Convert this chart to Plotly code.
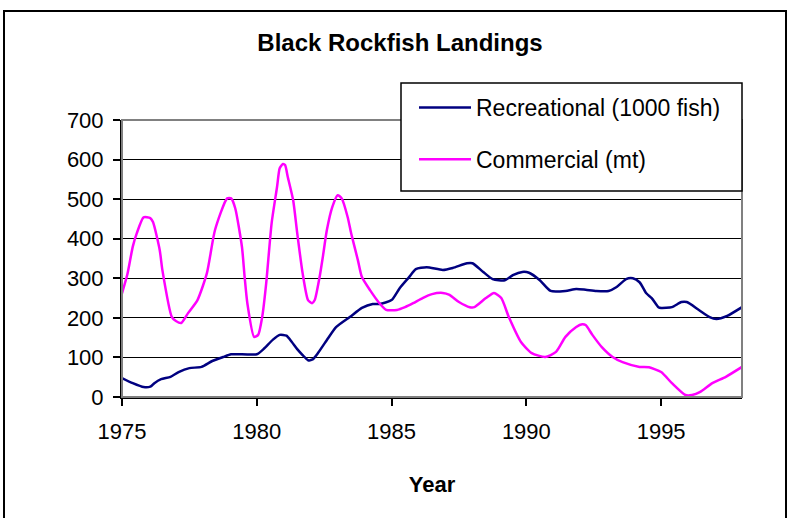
import plotly.graph_objects as go

# ---- data ----
rec_years = [1975.0, 1975.4, 1975.8, 1976.05, 1976.2, 1976.45, 1976.8, 1977.1, 1977.5, 1977.95,
             1978.35, 1978.75, 1979.05, 1980.0, 1980.25, 1980.6, 1980.85, 1981.1, 1981.3, 1981.5,
             1981.7, 1981.9, 1982.07, 1982.27, 1982.6, 1982.95, 1983.45, 1983.9, 1984.3, 1984.55,
             1985.0, 1985.3, 1985.65, 1985.9, 1986.3, 1986.9, 1987.27, 1987.8, 1988.0, 1988.4,
             1988.75, 1989.2, 1989.5, 1989.85, 1990.1, 1990.5, 1990.9, 1991.45, 1991.85, 1992.2,
             1992.6, 1993.05, 1993.35, 1993.7, 1993.95, 1994.2, 1994.45, 1994.65, 1994.9, 1995.0,
             1995.4, 1995.75, 1995.95, 1996.4, 1996.8, 1997.05, 1997.45, 1998.0]
rec_values = [48, 35, 25, 26, 35, 45, 51, 63, 73, 76,
              91, 101, 108, 108, 121, 145, 157, 155, 139, 121,
              106, 93, 95, 111, 144, 177, 202, 225, 235, 235,
              245, 275, 303, 323, 328, 321, 326, 338, 338, 316,
              298, 295, 308, 316, 314, 295, 268, 268, 273, 271,
              268, 268, 278, 298, 300, 290, 262, 250, 227, 225,
              227, 240, 240, 220, 202, 197, 205, 227]

com_years = [1975.0, 1975.2, 1975.4, 1975.55, 1975.8, 1976.05, 1976.15, 1976.4, 1976.5, 1976.85,
             1977.0, 1977.2, 1977.45, 1977.8, 1978.15, 1978.45, 1978.9, 1979.05, 1979.2, 1979.45,
             1979.55, 1979.65, 1979.9, 1980.05, 1980.2, 1980.35, 1980.55, 1980.75, 1980.85, 1980.97,
             1981.05, 1981.15, 1981.35, 1981.5, 1981.7, 1981.9, 1982.05, 1982.15, 1982.33, 1982.45,
             1982.6, 1982.8, 1983.0, 1983.15, 1983.37, 1983.5, 1983.75, 1983.9, 1984.2, 1984.55,
             1984.8, 1985.2, 1985.5, 1985.8, 1986.15, 1986.5, 1986.9, 1987.15, 1987.5, 1987.9,
             1988.07, 1988.5, 1988.8, 1989.07, 1989.35, 1989.8, 1990.2, 1990.7, 1991.1, 1991.45,
             1991.85, 1992.07, 1992.2, 1992.45, 1992.8, 1993.2, 1993.57, 1994.2, 1994.55, 1995.0,
             1995.4, 1995.9, 1996.15, 1996.45, 1996.9, 1997.4, 1998.0]
com_values = [262, 310, 380, 414, 454, 452, 442, 371, 320, 202,
              192, 187, 212, 245, 313, 422, 502, 502, 477, 379,
              303, 237, 152, 157, 202, 288, 439, 530, 578, 589,
              586, 556, 497, 414, 313, 245, 237, 245, 303, 354,
              422, 480, 510, 502, 455, 414, 346, 303, 270, 237,
              220, 220, 227, 237, 250, 260, 263, 258, 240, 227,
              227, 250, 263, 250, 202, 139, 111, 101, 114, 152,
              177, 184, 182, 157, 126, 101, 88, 76, 75, 63,
              35, 5, 5, 13, 35, 51, 76]

x_ticks = [1975, 1980, 1985, 1990, 1995]
y_ticks = [0, 100, 200, 300, 400, 500, 600, 700]

FONT = "Arial, Liberation Sans, sans-serif"
W, H = 787, 518
L, R, T, B = 122, 742, 120, 397   # plot area in pixels


def px_x(p):
    return (p - L) / (R - L)


def px_y(p):
    return (B - p) / (B - T)


fig = go.Figure()
fig.add_trace(go.Scatter(x=rec_years, y=rec_values, mode="lines", name="Recreational (1000 fish)",
                         line=dict(color="#000080", width=2.5, shape="spline", smoothing=0.6),
                         legendgroup="a"))
fig.add_trace(go.Scatter(x=com_years, y=com_values, mode="lines", name="Commercial (mt)",
                         line=dict(color="#FF00FF", width=2.5, shape="spline", smoothing=0.6),
                         legendgroup="b"))

shapes = [
    # outer chart frame
    dict(type="rect", xref="paper", yref="paper", x0=px_x(4), x1=px_x(786), y0=px_y(540), y1=px_y(11),
         line=dict(color="black", width=2), fillcolor="rgba(0,0,0,0)", layer="below"),
    # plot area border (gray)
    dict(type="rect", xref="paper", yref="paper", x0=0, x1=1, y0=0, y1=1,
         line=dict(color="#808080", width=2), fillcolor="rgba(0,0,0,0)", layer="above"),
    # legend box
    dict(type="rect", xref="paper", yref="paper", x0=px_x(401), x1=px_x(742), y0=px_y(191), y1=px_y(83),
         line=dict(color="black", width=1.5), fillcolor="white", layer="above"),
]

fig.update_layout(
    width=W, height=H,
    margin=dict(l=L, r=W - R, t=T, b=H - B, autoexpand=False),
    paper_bgcolor="white", plot_bgcolor="white",
    font=dict(family=FONT, color="black", size=22),
    title=dict(text="<b>Black Rockfish Landings</b>", x=400 / W, xref="container", xanchor="center",
               y=1 - 43 / H, yref="container", yanchor="middle",
               font=dict(family=FONT, size=24, color="black")),
    showlegend=True,
    legend=dict(x=px_x(414), xanchor="left", y=px_y(86), yanchor="top",
                bgcolor="rgba(0,0,0,0)", borderwidth=0,
                font=dict(family=FONT, size=23, color="black"),
                itemwidth=52, traceorder="grouped", tracegroupgap=19),
    shapes=shapes,
    xaxis=dict(range=[1975, 1998], tickvals=x_ticks, ticktext=[str(v) for v in x_ticks],
               showgrid=False, zeroline=False, showline=True, linecolor="black", linewidth=2,
               ticks="outside", ticklen=7, tickwidth=1.5, tickcolor="black",
               ticklabelstandoff=7,
               tickfont=dict(family=FONT, size=22, color="black"),
               title=dict(text="<b>Year</b>", font=dict(family=FONT, size=22, color="black"), standoff=33)),
    yaxis=dict(range=[0, 700], tickvals=y_ticks, ticktext=[str(v) for v in y_ticks],
               showgrid=True, gridcolor="black", gridwidth=1, zeroline=False,
               showline=True, linecolor="black", linewidth=2,
               ticks="outside", ticklen=7, tickwidth=1.5, tickcolor="black",
               ticklabelstandoff=5,
               tickfont=dict(family=FONT, size=22, color="black")),
)

fig.write_html("out.html", config={"displayModeBar": False},
               post_script="document.body.style.margin='0px';")
